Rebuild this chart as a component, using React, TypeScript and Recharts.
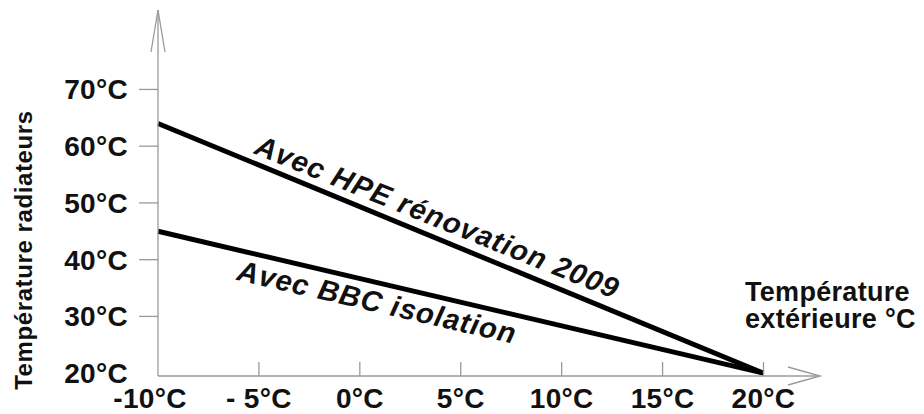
import { LineChart, Line, XAxis, YAxis, ReferenceDot } from "recharts";

// Température extérieure (°C) -> température radiateurs (°C)
const outdoorTemps = [-10, 20];
const hpeTemps = [64, 20];
const bbcTemps = [45, 20];

const xTicks = [-10, -5, 0, 5, 10, 15, 20];
const xTickLabels = ["-10°C", "- 5°C", "0°C", "5°C", "10°C", "15°C", "20°C"];
const yTicks = [20, 30, 40, 50, 60, 70];
const yTickLabels = ["20°C", "30°C", "40°C", "50°C", "60°C", "70°C"];

// annotations le long des courbes
const hpeNote = { x: 3.66, y: 45.9, angle: 22, text: "Avec HPE rénovation 2009" };
const bbcNote = { x: 0.75, y: 30.8, angle: 13, text: "Avec BBC isolation" };

const data = outdoorTemps.map((t, i) => ({
  ext: t,
  hpe: hpeTemps[i],
  bbc: bbcTemps[i],
}));

const FONT = '"Liberation Sans", Arial, Helvetica, sans-serif';
const AXIS = "#9a9a9a";
const INK = "#111";

function XTick(props: any) {
  const { x, y, payload } = props;
  const i = xTicks.indexOf(payload.value);
  return (
    <g>
      {i > 0 && (
        <line x1={x} y1={y} x2={x} y2={y - 14} stroke={AXIS} strokeWidth={1.3} />
      )}
      <text
        x={x}
        y={y + 32}
        dx={i === 0 ? -8 : 0}
        textAnchor="middle"
        fontFamily={FONT}
        fontWeight="bold"
        fontSize={28}
        letterSpacing={0.3}
        fill={INK}
      >
        {xTickLabels[i]}
      </text>
    </g>
  );
}

function YTick(props: any) {
  const { x, y, payload } = props;
  const i = yTicks.indexOf(payload.value);
  return (
    <g>
      {i > 0 && (
        <line x1={x - 19} y1={y} x2={x} y2={y} stroke={AXIS} strokeWidth={1.3} />
      )}
      <text
        x={x - 30}
        y={y + 10}
        textAnchor="end"
        fontFamily={FONT}
        fontWeight="bold"
        fontSize={28}
        letterSpacing={0.3}
        fill={INK}
      >
        {yTickLabels[i]}
      </text>
    </g>
  );
}

function YTitle(props: any) {
  const vb = props.viewBox;
  const cx = vb.x + 16;
  const cy = vb.y + vb.height * 0.656;
  return (
    <text
      x={cx}
      y={cy}
      transform={`rotate(-90, ${cx}, ${cy})`}
      textAnchor="middle"
      dominantBaseline="central"
      fontFamily={FONT}
      fontWeight="bold"
      fontSize={24}
      letterSpacing={0.6}
      fill={INK}
    >
      Température radiateurs
    </text>
  );
}

function XTitle(props: any) {
  const vb = props.viewBox;
  const x = vb.x + vb.width - 75;
  const y = vb.y - 75;
  return (
    <text x={x} y={y} fontFamily={FONT} fontWeight="bold" fontSize={27} letterSpacing={0.3} fill={INK}>
      <tspan x={x}>Température</tspan>
      <tspan x={x} dy={27}>extérieure °C</tspan>
    </text>
  );
}

function noteShape(angle: number, text: string) {
  return (props: any) => (
    <text
      x={props.cx}
      y={props.cy}
      transform={`rotate(${angle}, ${props.cx}, ${props.cy})`}
      textAnchor="middle"
      fontFamily={FONT}
      fontWeight="bold"
      fontStyle="italic"
      fontSize={29}
      letterSpacing={1}
      fill={INK}
    >
      {text}
    </text>
  );
}

export default function App() {
  return (
    <div style={{ width: 916, height: 406 }}>
      <svg width={0} height={0} style={{ position: "absolute" }}>
        <defs>
          <marker id="arrowX" markerUnits="userSpaceOnUse" viewBox="-40 -12 44 24" markerWidth={44} markerHeight={24} refX={0} refY={0} orient="auto" overflow="visible">
            <path d="M -32 -9 L 0 0 L -32 9" fill="none" stroke={AXIS} strokeWidth={1.3} />
          </marker>
          <marker id="arrowY" markerUnits="userSpaceOnUse" viewBox="-48 -10 52 20" markerWidth={52} markerHeight={20} refX={0} refY={0} orient="auto-start-reverse" overflow="visible">
            <path d="M -42 -7 L 0 0 L -42 7" fill="none" stroke={AXIS} strokeWidth={1.3} />
          </marker>
        </defs>
      </svg>

      <LineChart
        width={916}
        height={406}
        data={data}
        margin={{ top: 2, right: 104, bottom: 0, left: 0 }}
      >
        <XAxis
          dataKey="ext"
          type="number"
          domain={[-10, 22.8]}
          ticks={xTicks}
          interval={0}
          height={38}
          tickSize={0}
          tickMargin={0}
          tickLine={false}
          axisLine={{ stroke: AXIS, strokeWidth: 1.3, markerEnd: "url(#arrowX)" }}
          tick={<XTick />}
          label={(p: any) => <XTitle {...p} />}
        />
        <YAxis
          type="number"
          domain={[19.5, 84]}
          ticks={yTicks}
          interval={0}
          width={150}
          tickSize={0}
          tickMargin={0}
          tickLine={false}
          axisLine={{ stroke: AXIS, strokeWidth: 1.3, markerStart: "url(#arrowY)" }}
          tick={<YTick />}
          label={(p: any) => <YTitle {...p} />}
        />

        {/* Les deux courbes */}
        <Line dataKey="hpe" stroke="#000" strokeWidth={5} dot={false} activeDot={false} isAnimationActive={false} />
        <Line dataKey="bbc" stroke="#000" strokeWidth={5} dot={false} activeDot={false} isAnimationActive={false} />

        <ReferenceDot x={hpeNote.x} y={hpeNote.y} r={0} shape={noteShape(hpeNote.angle, hpeNote.text)} />
        <ReferenceDot x={bbcNote.x} y={bbcNote.y} r={0} shape={noteShape(bbcNote.angle, bbcNote.text)} />
      </LineChart>
    </div>
  );
}
